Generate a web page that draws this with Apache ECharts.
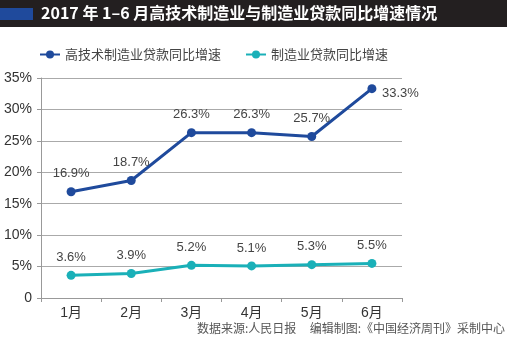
<!DOCTYPE html>
<html><head><meta charset="utf-8">
<script src="https://cdn.jsdelivr.net/npm/echarts@6/dist/echarts.min.js"></script>
<style>html,body{margin:0;padding:0;background:#fff;}#c{width:507px;height:338px;}</style>
</head><body><div id="c"></div>
<script>
const categories = ['1月','2月','3月','4月','5月','6月'];
const hiTech = [16.9, 18.7, 26.3, 26.3, 25.7, 33.3];
const manuf = [3.6, 3.9, 5.2, 5.1, 5.3, 5.5];
const yTicks = [0, 5, 10, 15, 20, 25, 30, 35];
const seriesNames = ['高技术制造业贷款同比增速', '制造业贷款同比增速'];
const titleText = '2017 年 1–6 月高技术制造业与制造业贷款同比增速情况';
const sourceText = '数据来源:人民日报     编辑制图:《中国经济周刊》采制中心';

const FONT = '"Liberation Sans","Noto Sans CJK SC",sans-serif';
const chart = echarts.init(document.getElementById('c'), null, {renderer:'canvas'});
chart.setOption({
  backgroundColor: '#fff',
  animation: false,
  graphic: [
    {type:'rect', shape:{x:0,y:0,width:507,height:27}, style:{fill:'#231f20'}},
    {type:'rect', shape:{x:0,y:8,width:33,height:12}, style:{fill:'#1f4a9c'}},
    {type:'text', left:41, top:5, style:{text:titleText, fill:'#fff', font:'bold 16px "Noto Sans CJK SC", sans-serif'}},
    {type:'text', right:2, top:322, style:{text:sourceText, fill:'#555', font:'12px "Noto Sans CJK SC", sans-serif'}}
  ],
  legend: {
    top: 43, left: 34, itemGap: 24, itemWidth: 20, itemHeight: 10,
    textStyle: {color:'#444', fontSize:13, fontFamily:'"Noto Sans CJK SC", sans-serif'},
    data: seriesNames
  },
  grid: {left:41, right:105, top:78, bottom:40},
  xAxis: {
    type:'category', data: categories, boundaryGap:true,
    axisLine:{lineStyle:{color:'#999'}},
    axisTick:{show:true, length:4, lineStyle:{color:'#999'}},
    axisLabel:{color:'#333', fontSize:14, margin:8, fontFamily:FONT}
  },
  yAxis: {
    type:'value', min:0, max:35, interval:5,
    axisLine:{show:true, lineStyle:{color:'#999'}},
    axisTick:{show:true, length:4, lineStyle:{color:'#999'}},
    splitLine:{lineStyle:{color:'#aaa'}},
    axisLabel:{color:'#333', fontSize:14, margin:9, fontFamily:FONT,
      formatter: v => v === 0 ? '0' : v + '%'}
  },
  series: [
    {name: seriesNames[0], type:'line', data: hiTech, symbol:'circle', symbolSize:9,
      itemStyle:{color:'#1f4a9c'}, lineStyle:{width:3, color:'#1f4a9c'},
      label:{show:true, position:'top', distance:7, color:'#444', fontSize:13, fontFamily:FONT,
        formatter: p => p.value.toFixed(1) + '%'},
      labelLayout: p => p.dataIndex === 5 ? {x: p.rect.x + p.rect.width/2 + 10, y: 93, align:'left', verticalAlign:'middle'} : {}
    },
    {name: seriesNames[1], type:'line', data: manuf, symbol:'circle', symbolSize:9,
      itemStyle:{color:'#1ab0b8'}, lineStyle:{width:3, color:'#1ab0b8'},
      label:{show:true, position:'top', distance:7, color:'#444', fontSize:13, fontFamily:FONT,
        formatter: p => p.value.toFixed(1) + '%'}
    }
  ]
});
</script></body></html>
